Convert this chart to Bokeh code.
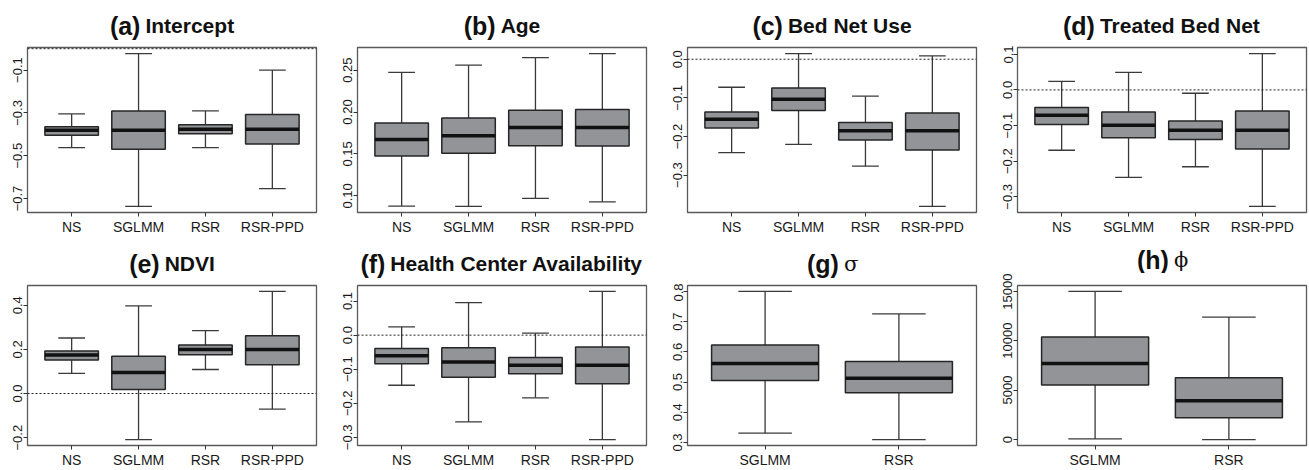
from bokeh.plotting import figure
from bokeh.models import FixedTicker, Span, Range1d
from bokeh.layouts import column, row
from bokeh.core.properties import value
from bokeh.embed import file_html
from bokeh.resources import INLINE

# ---------------- data ----------------
methods4 = ["NS", "SGLMM", "RSR", "RSR-PPD"]
methods2 = ["SGLMM", "RSR"]

panel_letters = ["(a)", "(b)", "(c)", "(d)", "(e)", "(f)", "(g)", "(h)"]
panel_names = ["Intercept", "Age", "Bed Net Use", "Treated Bed Net", "NDVI",
               "Health Center Availability", "σ", "ϕ"]

intercept_lo = [-0.462, -0.737, -0.462, -0.654]
intercept_q1 = [-0.404, -0.470, -0.398, -0.445]
intercept_med = [-0.381, -0.381, -0.376, -0.376]
intercept_q3 = [-0.365, -0.291, -0.356, -0.308]
intercept_hi = [-0.305, -0.023, -0.291, -0.100]

age_lo = [0.0878, 0.0874, 0.0969, 0.0929]
age_q1 = [0.1476, 0.1508, 0.1598, 0.1594]
age_med = [0.1673, 0.1717, 0.1815, 0.1815]
age_q3 = [0.1870, 0.1929, 0.2020, 0.2031]
age_hi = [0.2472, 0.2559, 0.2650, 0.2697]

bednet_lo = [-0.2419, -0.2205, -0.2769, -0.3810]
bednet_q1 = [-0.1778, -0.1325, -0.2094, -0.2350]
bednet_med = [-0.1556, -0.1034, -0.1855, -0.1855]
bednet_q3 = [-0.1368, -0.0744, -0.1640, -0.1393]
bednet_hi = [-0.0726, 0.0145, -0.0957, 0.0085]

treated_lo = [-0.1694, -0.2454, -0.2157, -0.3269]
treated_q1 = [-0.0972, -0.1343, -0.1389, -0.1657]
treated_med = [-0.0713, -0.0991, -0.1130, -0.1130]
treated_q3 = [-0.0490, -0.0620, -0.0870, -0.0593]
treated_hi = [0.0240, 0.0490, -0.0093, 0.1019]

ndvi_lo = [0.0913, -0.2087, 0.1088, -0.0704]
ndvi_q1 = [0.1524, 0.0185, 0.1757, 0.1306]
ndvi_med = [0.1743, 0.0956, 0.1990, 0.1990]
ndvi_q3 = [0.1930, 0.1685, 0.2194, 0.2617]
ndvi_hi = [0.2515, 0.3970, 0.2850, 0.4626]

health_lo = [-0.1472, -0.2547, -0.1840, -0.3066]
health_q1 = [-0.0840, -0.1236, -0.1132, -0.1425]
health_med = [-0.0604, -0.0792, -0.0887, -0.0887]
health_q3 = [-0.0396, -0.0368, -0.0660, -0.0349]
health_hi = [0.0245, 0.0953, 0.0057, 0.1283]

sigma_lo = [0.3307, 0.3095]
sigma_q1 = [0.5055, 0.4642]
sigma_med = [0.5617, 0.5129]
sigma_q3 = [0.6230, 0.5680]
sigma_hi = [0.8000, 0.7258]

phi_lo = [65, 0]
phi_q1 = [5509, 2203]
phi_med = [7680, 3921]
phi_q3 = [10370, 6254]
phi_hi = [14970, 12378]

intercept_ticks = [-0.7, -0.5, -0.3, -0.1]
age_ticks = [0.10, 0.15, 0.20, 0.25]
bednet_ticks = [-0.3, -0.2, -0.1, 0.0]
treated_ticks = [-0.3, -0.2, -0.1, 0.0, 0.1]
ndvi_ticks = [-0.2, 0.0, 0.2, 0.4]
health_ticks = [-0.3, -0.2, -0.1, 0.0, 0.1]
sigma_ticks = [0.3, 0.4, 0.5, 0.6, 0.7, 0.8]
phi_ticks = [0, 5000, 10000, 15000]

intercept_labels = ["−0.7", "−0.5", "−0.3", "−0.1"]
age_labels = ["0.10", "0.15", "0.20", "0.25"]
bednet_labels = ["−0.3", "−0.2", "−0.1", "0.0"]
treated_labels = ["−0.3", "−0.2", "−0.1", "0.0", "0.1"]
ndvi_labels = ["−0.2", "0.0", "0.2", "0.4"]
health_labels = ["−0.3", "−0.2", "−0.1", "0.0", "0.1"]
sigma_labels = ["0.3", "0.4", "0.5", "0.6", "0.7", "0.8"]
phi_labels = ["0", "5000", "10000", "15000"]

panels = [
    (methods4, intercept_lo, intercept_q1, intercept_med, intercept_q3, intercept_hi, intercept_ticks, intercept_labels, True),
    (methods4, age_lo, age_q1, age_med, age_q3, age_hi, age_ticks, age_labels, True),
    (methods4, bednet_lo, bednet_q1, bednet_med, bednet_q3, bednet_hi, bednet_ticks, bednet_labels, True),
    (methods4, treated_lo, treated_q1, treated_med, treated_q3, treated_hi, treated_ticks, treated_labels, True),
    (methods4, ndvi_lo, ndvi_q1, ndvi_med, ndvi_q3, ndvi_hi, ndvi_ticks, ndvi_labels, True),
    (methods4, health_lo, health_q1, health_med, health_q3, health_hi, health_ticks, health_labels, True),
    (methods2, sigma_lo, sigma_q1, sigma_med, sigma_q3, sigma_hi, sigma_ticks, sigma_labels, False),
    (methods2, phi_lo, phi_q1, phi_med, phi_q3, phi_hi, phi_ticks, phi_labels, False),
]

# ---------------- style ----------------
FONT = "Liberation Sans"
BOX_FILL = "#939498"
BOX_LINE = "#262626"
WHISK = "#3a3a3a"
FRAME = "#5a5a5a"

LEFT = 27
FRAME_W = 289

BOLD_W = {'(': 333, ')': 333, 'a': 556, 'b': 611, 'c': 556, 'd': 611, 'e': 556,
          'f': 333, 'g': 611, 'h': 611, ' ': 278, 'I': 278, 'n': 611, 't': 333,
          'r': 389, 'p': 611, 'A': 722, 'B': 722, 'N': 722, 'U': 722, 'T': 611,
          'D': 722, 'V': 667, 'H': 722, 'C': 722, 'l': 278, 'i': 278, 'y': 556,
          's': 556, 'v': 556, 'u': 611, 'k': 556, 'o': 611, 'm': 889}


def text_w(s, size, greek=False):
    if greek:
        return 0.62 * size * len(s)
    return sum(BOLD_W.get(c, 600) for c in s) / 1000.0 * size


def make_title(idx, height, right, base):
    t = figure(output_backend="svg", toolbar_location=None, title=None,
               frame_width=FRAME_W, frame_height=height,
               x_range=Range1d(0, FRAME_W), y_range=Range1d(0, height),
               min_border_left=LEFT, min_border_right=right,
               min_border_top=0, min_border_bottom=0,
               x_axis_type=None, y_axis_type=None)
    t.grid.visible = False
    t.outline_line_color = None
    t.background_fill_color = "white"
    t.border_fill_color = "white"
    letter = panel_letters[idx]
    name = panel_names[idx]
    greek = idx >= 6
    s1, s2 = 25, 21
    w1 = text_w(letter, s1)
    w2 = text_w(name, s2, greek)
    gap = 5
    total = w1 + gap + w2
    x0 = FRAME_W / 2.0 - total / 2.0
    t.text(x=[x0], y=[base], text=[letter], text_font=value(FONT),
           text_font_style="bold", text_font_size=f"{s1}px", text_align="left",
           text_baseline="alphabetic", text_color="#111111")
    t.text(x=[x0 + w1 + gap], y=[base], text=[name],
           text_font=value("DejaVu Serif" if greek else FONT),
           text_font_style=("normal" if greek else "bold"),
           text_font_size=f"{s2}px", text_align="left",
           text_baseline="alphabetic", text_color="#111111")
    return t


def make_panel(spec, frame_h, plot_top, right, bottom):
    cats, lo, q1, med, q3, hi, ticks, labels, zero_line = spec
    n = len(cats)
    xs = list(range(1, n + 1))
    ymin, ymax = min(lo), max(hi)
    span = ymax - ymin
    y_range = Range1d(ymin - 0.04 * span, ymax + 0.04 * span)
    x_range = Range1d(0.5 - 0.04 * n, n + 0.5 + 0.04 * n)

    p = figure(output_backend="svg", toolbar_location=None, title=None,
               frame_width=FRAME_W, frame_height=frame_h,
               x_range=x_range, y_range=y_range,
               min_border_left=LEFT, min_border_right=right,
               min_border_top=plot_top, min_border_bottom=bottom)
    p.grid.visible = False
    p.background_fill_color = "white"
    p.border_fill_color = "white"
    p.outline_line_color = FRAME
    p.outline_line_width = 1.3

    if zero_line:
        p.add_layout(Span(location=0, dimension="width", line_color="#222222",
                          line_dash="2 2", line_width=1))

    # whiskers
    p.segment(x0=xs, y0=q3, x1=xs, y1=hi, line_color=WHISK, line_width=1.3)
    p.segment(x0=xs, y0=q1, x1=xs, y1=lo, line_color=WHISK, line_width=1.3)
    # staples
    p.segment(x0=[x - 0.2 for x in xs], y0=hi, x1=[x + 0.2 for x in xs], y1=hi,
              line_color=WHISK, line_width=1.3)
    p.segment(x0=[x - 0.2 for x in xs], y0=lo, x1=[x + 0.2 for x in xs], y1=lo,
              line_color=WHISK, line_width=1.3)
    # boxes
    p.vbar(x=xs, width=0.8, bottom=q1, top=q3, fill_color=BOX_FILL,
           line_color=BOX_LINE, line_width=1.5)
    # medians
    p.segment(x0=[x - 0.4 for x in xs], y0=med, x1=[x + 0.4 for x in xs], y1=med,
              line_color="#111111", line_width=3.5)

    # axes
    p.xaxis.ticker = FixedTicker(ticks=xs)
    p.xaxis.major_label_overrides = {x: c for x, c in zip(xs, cats)}
    p.yaxis.ticker = FixedTicker(ticks=ticks)
    p.yaxis.major_label_overrides = {t: l for t, l in zip(ticks, labels)}
    p.yaxis.major_label_orientation = "vertical"
    for ax in (p.xaxis, p.yaxis):
        ax.axis_line_color = None
        ax.major_tick_line_color = "#333333"
        ax.major_tick_line_width = 1
        ax.major_tick_in = 0
        ax.major_tick_out = 4
        ax.minor_tick_line_color = None
        ax.major_label_text_font = FONT
        ax.major_label_text_color = "#1a1a1a"
    p.xaxis.major_label_text_font_size = "14px"
    p.xaxis.major_label_standoff = 2
    p.yaxis.major_label_text_font_size = "13px"
    p.yaxis.major_label_standoff = 1
    return p


TEXT_SHIFT = 7  # rendered baseline sits this many px below the requested y


def make_cell(i, top_total, frame_h, bottom):
    col = i % 4
    right = 2 if col == 3 else 14
    plot_top = 12 if i == 7 else 2
    above = 19 if i == 7 else 15          # baseline distance above the frame
    title_h = top_total - plot_top
    base = above - plot_top + TEXT_SHIFT
    return column(make_title(i, title_h, right, base),
                  make_panel(panels[i], frame_h, plot_top, right, bottom))


row1 = [make_cell(i, 47, 165, 26) for i in range(4)]
row2 = [make_cell(i, 47, 160, 23) for i in range(4, 8)]
layout = column(row(*row1), row(*row2))

open("out.html", "w").write(file_html(layout, INLINE))
